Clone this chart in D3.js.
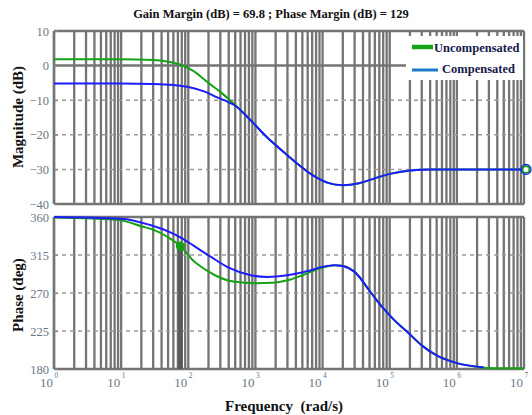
<!DOCTYPE html>
<html><head><meta charset="utf-8">
<script src="https://cdn.jsdelivr.net/npm/d3@7"></script>
<style>body{margin:0;background:#fff}svg{display:block}</style>
</head><body><svg id="c" width="532" height="415"></svg>
<script>
const title = "Gain Margin (dB) = 69.8 ; Phase Margin (dB) = 129";
const seriesNames = ["Uncompensated", "Compensated"];
const magTicks = [10, 0, -10, -20, -30, -40];
const phaseTicks = [360, 315, 270, 225, 180];
const decades = [0, 1, 2, 3, 4, 5, 6, 7];

const magFreq_U = [1, 10, 30, 50, 80, 120, 200, 300, 500, 800, 1500, 2500, 4000, 7000, 12000, 20000, 35000, 60000, 100000, 200000, 400000, 1e7];
const magVal_U  = [1.8, 1.8, 1.6, 1.1, 0.1, -1.6, -5.0, -7.6, -11.4, -15.3, -20.8, -24.6, -28.0, -31.6, -33.9, -34.6, -34.0, -32.6, -31.3, -30.3, -30.0, -30.0];
const magFreq_C = [1, 10, 30, 60, 100, 180, 270, 400, 500, 800, 1500, 2500, 4000, 7000, 12000, 20000, 35000, 60000, 100000, 200000, 400000, 1e7];
const magVal_C  = [-5.2, -5.2, -5.3, -5.6, -6.2, -7.6, -9.2, -10.6, -11.6, -15.3, -20.8, -24.6, -28.0, -31.6, -33.9, -34.6, -34.0, -32.6, -31.3, -30.3, -30.0, -30.0];

const phFreq_U = [1, 3, 10, 20, 30, 50, 76, 120, 150, 250, 470, 1000, 1800, 3000, 5000, 9000, 15000, 20000, 30000, 53000, 80000, 120000, 177000, 300000, 500000, 1e6, 2e6, 4e6, 1e7];
const phVal_U  = [359.5, 358.5, 356, 349, 345, 336, 325.7, 308, 302, 291, 283.5, 281.5, 282, 285, 291, 299, 303, 302, 295, 270, 252, 237, 225, 208, 196, 187, 182.5, 181, 181];
const phFreq_C = [1, 10, 27, 50, 76, 120, 215, 400, 850, 1500, 3000, 6000, 10000, 15000, 20000, 30000, 53000, 80000, 120000, 177000, 300000, 500000, 1e6, 2.5e6];
const phVal_C  = [360, 358, 350.5, 343, 336, 326, 313, 300, 291, 289, 291, 296, 301, 303, 302, 295, 270, 252, 237, 225, 208, 196, 187, 182];

const pmFreq = [76], pmPhase = [325.7];
const gmFreq = [1e7], gmMag = [-30];

const FONT = "'Liberation Serif', 'Times New Roman', 'DejaVu Serif', serif";
const svg = d3.select("#c").attr("font-family", FONT);
const W = 532, H = 415;
const L = 54, R = 524;
const mag = {top: 31, bot: 204}, ph = {top: 217, bot: 369};
const x = d3.scaleLog().domain([1, 1e7]).range([L, R]);
const yM = d3.scaleLinear().domain([-40, 10]).range([mag.bot, mag.top]);
const yP = d3.scaleLinear().domain([180, 360]).range([ph.bot, ph.top]);
const grid = "#747474";
const green = "#15a215", blue = "#1c1cff";
const tickCol = "#6a7888";

svg.append("rect").attr("width", W).attr("height", H).attr("fill", "#fff");

const vlines = [];
for (let k = 0; k < 7; k++) for (let m = 1; m <= 9; m++) vlines.push(m * Math.pow(10, k));
vlines.push(1e7);
function panel(p, y, ticks, zeroLine) {
  const g = svg.append("g");
  g.selectAll("line.v").data(vlines).join("line")
    .attr("x1", d => x(d)).attr("x2", d => x(d)).attr("y1", p.top).attr("y2", p.bot)
    .attr("stroke", grid).attr("stroke-width", 2.3);
  g.selectAll("line.h").data(ticks.slice(1, -1).filter(t => t !== zeroLine)).join("line")
    .attr("x1", L).attr("x2", R).attr("y1", d => y(d)).attr("y2", d => y(d))
    .attr("stroke", "#9a9a9a").attr("stroke-width", 1.5).attr("stroke-dasharray", "4,4");
  if (zeroLine !== null) g.append("line").attr("x1", L).attr("x2", R).attr("y1", y(zeroLine)).attr("y2", y(zeroLine)).attr("stroke", grid).attr("stroke-width", 2.5);
  g.append("line").attr("x1", L).attr("x2", R).attr("y1", p.top).attr("y2", p.top).attr("stroke", grid).attr("stroke-width", 2.5);
  g.append("line").attr("x1", L).attr("x2", R).attr("y1", p.bot).attr("y2", p.bot).attr("stroke", grid).attr("stroke-width", 2.5);
  g.append("line").attr("x1", L).attr("x2", L).attr("y1", p.top).attr("y2", p.bot).attr("stroke", grid).attr("stroke-width", 2.5);
  const ax = d3.axisLeft(y).tickValues(ticks).tickSize(-4).tickPadding(5).tickFormat(d3.format("d"));
  const a = svg.append("g").attr("transform", `translate(${L},0)`).call(ax).attr("font-family", FONT);
  a.select(".domain").remove();
  a.selectAll(".tick line").attr("stroke", "#8a8a8a").attr("stroke-width", 1.2);
  a.selectAll(".tick text").attr("fill", tickCol).attr("font-size", 12.5);
}
panel(mag, yM, magTicks, 0);
panel(ph, yP, phaseTicks, null);

const xl = svg.append("g");
decades.forEach(d => {
  xl.append("text").attr("x", x(Math.pow(10, d)) - 1).attr("y", 387).attr("text-anchor", "end")
    .attr("font-size", 13).attr("fill", tickCol).text("10");
  xl.append("text").attr("x", x(Math.pow(10, d)) + 0.5).attr("y", 378).attr("font-size", 7.5).attr("fill", tickCol).text(d);
});

svg.append("rect").attr("x", 406).attr("y", 36).attr("width", 117).attr("height", 44).attr("fill", "#fff");

const line = (xs, ys, yS) => d3.line().x((d, i) => x(xs[i])).y((d, i) => yS(ys[i])).curve(d3.curveMonotoneX)(ys);
svg.append("path").attr("d", line(magFreq_U, magVal_U, yM)).attr("fill", "none").attr("stroke", green).attr("stroke-width", 2);
svg.append("path").attr("d", line(magFreq_C, magVal_C, yM)).attr("fill", "none").attr("stroke", blue).attr("stroke-width", 2);

svg.append("line").attr("x1", x(pmFreq[0])).attr("x2", x(pmFreq[0])).attr("y1", yP(pmPhase[0])).attr("y2", ph.bot)
  .attr("stroke", "#5a5a5a").attr("stroke-width", 5);
svg.append("path").attr("d", line(phFreq_U, phVal_U, yP)).attr("fill", "none").attr("stroke", green).attr("stroke-width", 2);
svg.append("path").attr("d", line(phFreq_C, phVal_C, yP)).attr("fill", "none").attr("stroke", blue).attr("stroke-width", 2);
svg.append("circle").attr("cx", x(pmFreq[0])).attr("cy", yP(pmPhase[0])).attr("r", 4.5).attr("fill", green);

svg.append("circle").attr("cx", x(gmFreq[0]) + 2).attr("cy", yM(gmMag[0])).attr("r", 3.5).attr("fill", "#fff").attr("stroke", green).attr("stroke-width", 2);
svg.append("circle").attr("cx", x(gmFreq[0]) + 2).attr("cy", yM(gmMag[0])).attr("r", 5).attr("fill", "none").attr("stroke", blue).attr("stroke-width", 1.2);

svg.append("line").attr("x1", 412).attr("x2", 433).attr("y1", 47).attr("y2", 47).attr("stroke", green).attr("stroke-width", 4.5);
svg.append("line").attr("x1", 412).attr("x2", 438).attr("y1", 70).attr("y2", 70).attr("stroke", "#1f78c8").attr("stroke-width", 3);
svg.append("text").attr("x", 434).attr("y", 52).attr("font-size", 12.5).attr("font-weight", "bold").attr("fill", "#141a4a").text(seriesNames[0]);
svg.append("text").attr("x", 442).attr("y", 73).attr("font-size", 12.5).attr("font-weight", "bold").attr("fill", "#141a4a").text(seriesNames[1]);

svg.append("text").attr("x", 271).attr("y", 18).attr("text-anchor", "middle").attr("font-size", 12.5).attr("font-weight", "bold").attr("fill", "#111").text(title);
svg.append("text").attr("transform", `translate(23,117) rotate(-90)`).attr("text-anchor", "middle").attr("font-size", 15).attr("font-weight", "bold").attr("fill", "#111").text("Magnitude (dB)");
svg.append("text").attr("transform", `translate(23,295) rotate(-90)`).attr("text-anchor", "middle").attr("font-size", 15).attr("font-weight", "bold").attr("fill", "#111").text("Phase (deg)");
svg.append("text").attr("x", 284).attr("y", 411).attr("text-anchor", "middle").attr("font-size", 15).attr("font-weight", "bold").attr("fill", "#111").attr("xml:space", "preserve").style("white-space", "pre").text("Frequency  (rad/s)");
</script></body></html>
